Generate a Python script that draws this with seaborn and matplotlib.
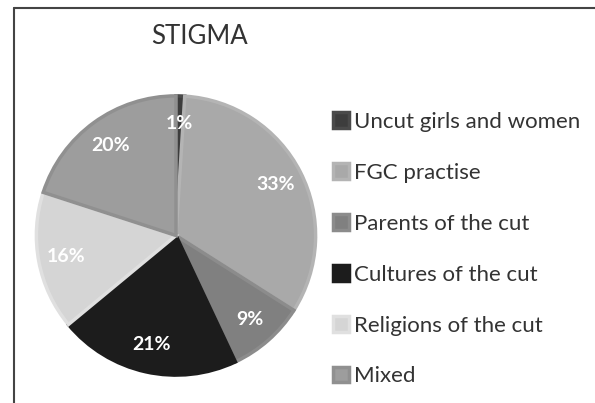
import numpy as np
import matplotlib.pyplot as plt
import seaborn as sns
from matplotlib.lines import Line2D

# data, clockwise from 12 o'clock
labels = ["Uncut girls and women", "FGC practise", "Parents of the cut",
          "Cultures of the cut", "Religions of the cut", "Mixed"]
shares = [1, 33, 9, 21, 16, 20]

colors = ["#3d3d3d", "#a9a9a9", "#808080", "#1c1c1c", "#d5d5d5", "#9d9d9d"]
edges = ["#4a4a4a", "#b4b4b4", "#8c8c8c", "#1c1c1c", "#e0e0e0", "#909090"]

sns.set_theme(style="white")
plt.rcParams["font.family"] = ["Lato", "DejaVu Sans"]

fig = plt.figure(figsize=(5.95, 4.03), dpi=100)
W, H = 595, 403

# pie axes sized in pixels
px, py, pw, ph = 35, 94, 282, 283
ax = fig.add_axes([px / W, 1 - (py + ph) / H, pw / W, ph / H])

wedges, texts, autotexts = ax.pie(
    shares, colors=colors, startangle=90, counterclock=False,
    autopct=lambda p: f"{p:.0f}%", pctdistance=0.8,
    wedgeprops=dict(linewidth=2.5),
    textprops=dict(color="white", fontsize=14, fontweight="bold"))
for w, e in zip(wedges, edges):
    w.set_edgecolor(e)
ax.set_xlim(-1.01, 1.01)
ax.set_ylim(-1.01, 1.01)
ax.set_aspect("equal")
ax.axis("off")

# title
fig.text(199 / W, 1 - 36 / H, "STIGMA", ha="center", va="center",
         fontsize=18.5, color="#333333")

# legend
fig.legend(wedges, labels, loc="upper left",
           bbox_to_anchor=(333 / W, 1 - 112 / H),
           frameon=False, fontsize=16, labelcolor="#333333",
           handlelength=0.7, handleheight=0.7, handletextpad=0.25,
           labelspacing=1.39, borderpad=0, borderaxespad=0)

# outer frame (top and left edges only)
fig.add_artist(Line2D([14 / W, 1], [1 - 8 / H, 1 - 8 / H],
                      transform=fig.transFigure, color="#444444", lw=1.5))
fig.add_artist(Line2D([14 / W, 14 / W], [0, 1 - 8 / H],
                      transform=fig.transFigure, color="#444444", lw=1.5))

fig.savefig("out.png", dpi=100)
